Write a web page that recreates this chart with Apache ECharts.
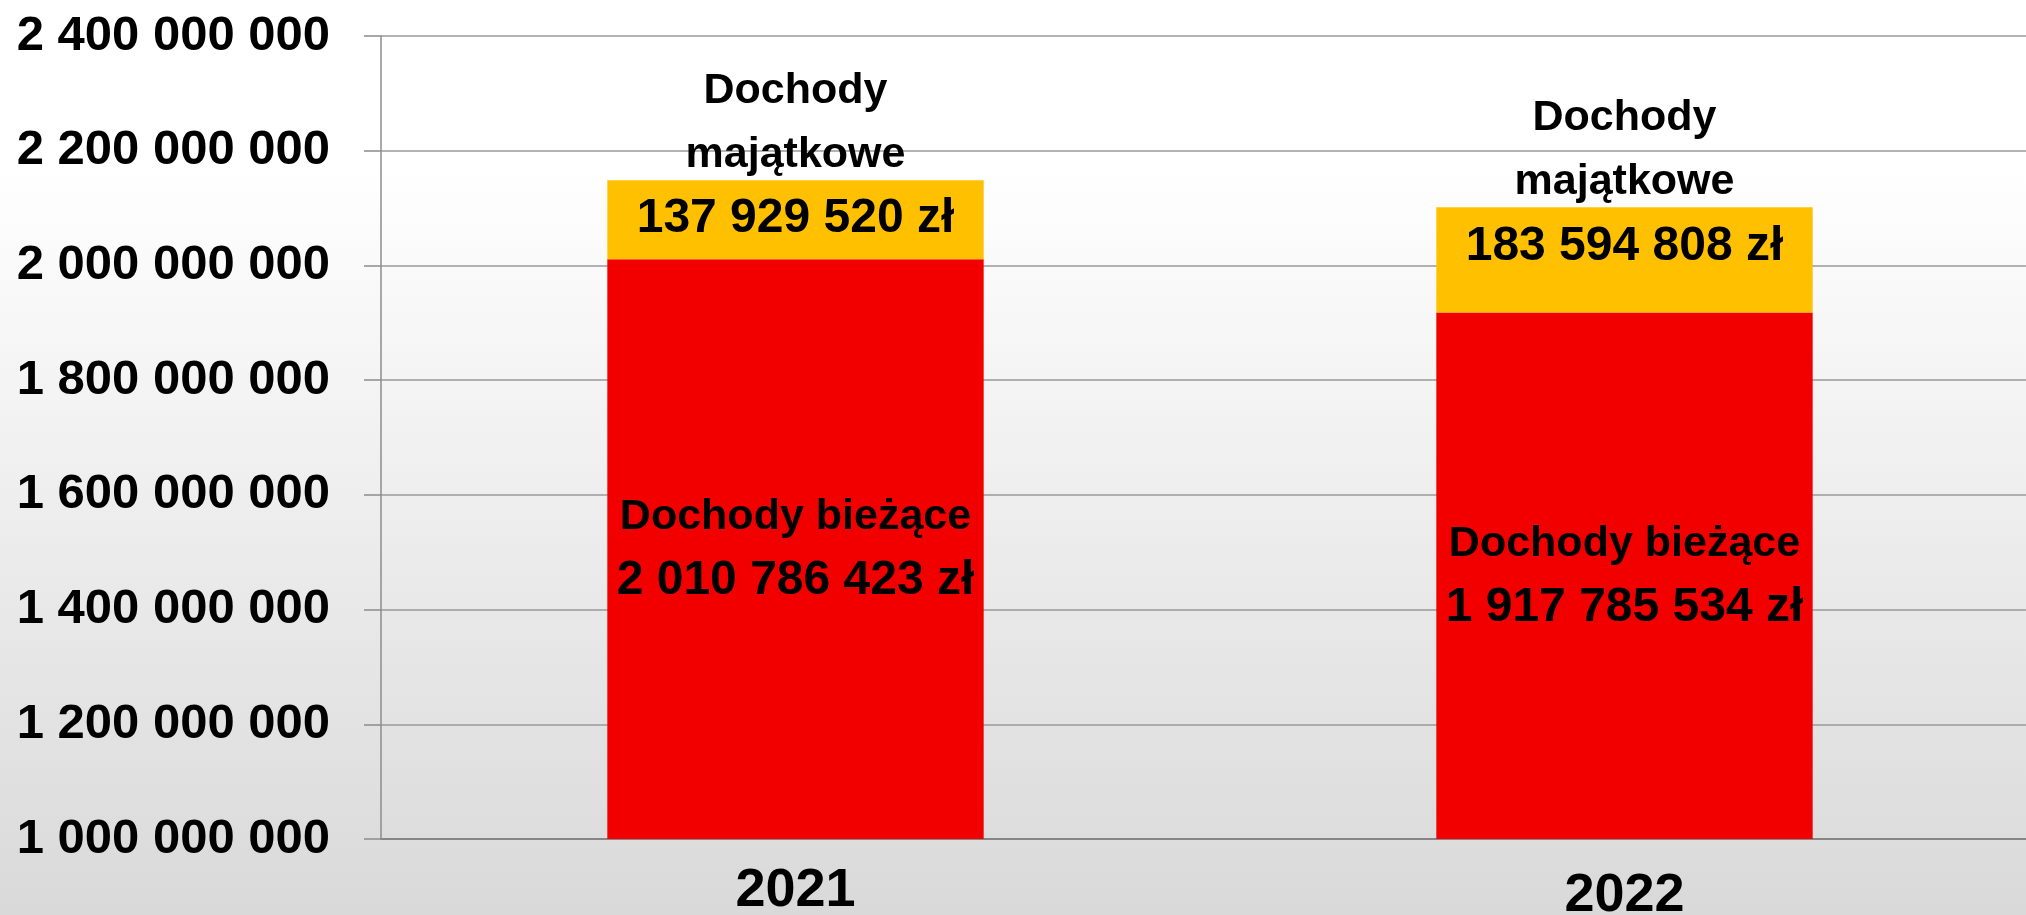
<!DOCTYPE html>
<html>
<head>
<meta charset="utf-8">
<script src="https://cdn.jsdelivr.net/npm/echarts@6/dist/echarts.min.js"></script>
<style>
html,body{margin:0;padding:0;}
#c{width:2026px;height:915px;}
</style>
</head>
<body>
<div id="c"></div>
<script>
const years = ['2021', '2022'];
const seriesNames = ['Dochody bieżące', 'Dochody majątkowe'];
const biezace = [2010786423, 1917785534];
const majatkowe = [137929520, 183594808];
const yTicks = [1000000000, 2400000000, 200000000]; // min, max, step

function fmt(n) {
  return String(Math.round(n)).replace(/\B(?=(\d{3})+(?!\d))/g, ' ');
}

const FONT = '"Liberation Sans", Arial, sans-serif';
const rich = {
  n: {fontFamily: FONT, fontWeight: 'bold', fontSize: 43, lineHeight: 64, color: '#000'},
  v: {fontFamily: FONT, fontWeight: 'bold', fontSize: 48, lineHeight: 64, color: '#000'}
};

const chart = echarts.init(document.getElementById('c'));
chart.setOption({
  animation: false,
  backgroundColor: {
    type: 'linear', x: 0, y: 0, x2: 0, y2: 1,
    colorStops: [
      {offset: 0, color: '#FFFFFF'},
      {offset: 0.18, color: '#FFFFFF'},
      {offset: 1, color: '#D9D9D9'}
    ]
  },
  grid: {left: 381, top: 36, width: 1658, height: 803, containLabel: false, outerBoundsMode: 'none'},
  xAxis: {
    type: 'category',
    data: years,
    splitLine: {show: false},
    axisTick: {show: false},
    axisLine: {show: true, lineStyle: {color: '#868686', width: 2}},
    axisLabel: {
      margin: 25,
      formatter: (v, i) => (i === 1 ? '{low|' + v + '}' : '{std|' + v + '}'),
      rich: {
        std: {fontFamily: FONT, fontWeight: 'bold', fontSize: 54, color: '#000'},
        low: {fontFamily: FONT, fontWeight: 'bold', fontSize: 54, color: '#000', padding: [5, 0, 0, 0]}
      }
    }
  },
  yAxis: {
    type: 'value',
    min: yTicks[0],
    max: yTicks[1],
    interval: yTicks[2],
    axisLine: {show: true, lineStyle: {color: '#8C8C8C', width: 1.5}},
    axisTick: {show: true, inside: false, length: 17, lineStyle: {color: '#8C8C8C', width: 1.5}},
    splitLine: {show: true, lineStyle: {color: '#9A9A9A', width: 1.5}},
    axisLabel: {
      formatter: v => fmt(v),
      margin: 51,
      fontFamily: FONT,
      fontWeight: 'bold',
      fontSize: 49,
      color: '#000'
    }
  },
  series: [
    {
      name: seriesNames[0],
      type: 'bar',
      stack: 'total',
      clip: true,
      barWidth: '45.4%',
      itemStyle: {color: '#F20000'},
      data: biezace,
      label: {
        show: true,
        position: 'inside',
        rich: rich,
        formatter: p => '{n|' + p.seriesName + '}\n{v|' + fmt(p.value) + ' zł}'
      }
    },
    {
      name: seriesNames[1],
      type: 'bar',
      stack: 'total',
      clip: true,
      barWidth: '45.4%',
      itemStyle: {color: '#FFC000'},
      data: majatkowe,
      label: {
        show: true,
        position: ['50%', 71],
        align: 'center',
        verticalAlign: 'bottom',
        rich: rich,
        formatter: p => p.seriesName.split(' ').map(w => '{n|' + w + '}').join('\n') + '\n{v|' + fmt(p.value) + ' zł}'
      }
    }
  ]
});
</script>
</body>
</html>
